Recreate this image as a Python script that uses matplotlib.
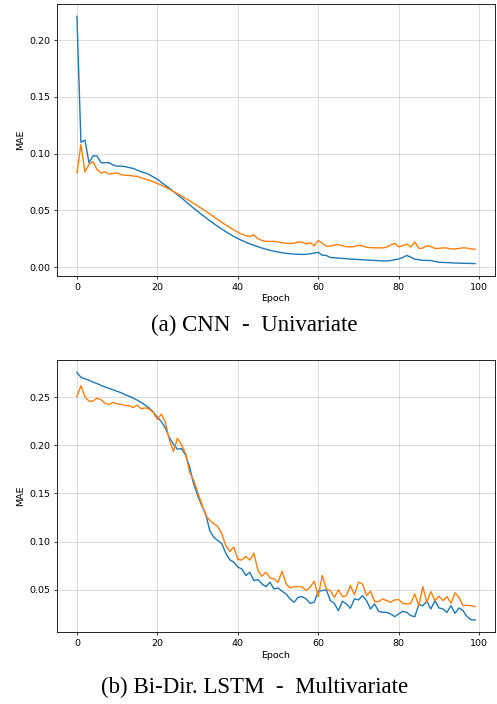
import numpy as np
import matplotlib.pyplot as plt

# epoch axis
epochs = np.arange(100)

# (a) CNN - Univariate
cnn_blue = [0.221, 0.110, 0.112, 0.092, 0.098, 0.098, 0.092, 0.092, 0.092, 0.090,
            0.089, 0.089, 0.0886, 0.0877, 0.087, 0.0855, 0.084, 0.083, 0.0815, 0.0795,
            0.0775, 0.0748, 0.072, 0.0695, 0.0667, 0.0638, 0.061, 0.058, 0.055, 0.052,
            0.0492, 0.0464, 0.0437, 0.041, 0.0384, 0.036, 0.0336, 0.0313, 0.0291, 0.0271,
            0.0252, 0.0235, 0.022, 0.0205, 0.0192, 0.018, 0.0168, 0.0158, 0.0149, 0.014,
            0.0133, 0.0127, 0.0122, 0.0118, 0.0115, 0.0113, 0.0112, 0.0113, 0.0118, 0.0124,
            0.013, 0.0105, 0.0103, 0.0085, 0.0082, 0.008, 0.0077, 0.0074, 0.0071, 0.0069,
            0.0067, 0.0065, 0.0063, 0.0061, 0.0059, 0.0057, 0.0055, 0.0055, 0.0058, 0.0065,
            0.0072, 0.0085, 0.0103, 0.0088, 0.007, 0.0066, 0.006, 0.0059, 0.0058, 0.005,
            0.0043, 0.0041, 0.004, 0.0038, 0.0036, 0.0035, 0.0034, 0.0033, 0.0032, 0.0031]
cnn_orange = [0.083, 0.108, 0.084, 0.0905, 0.093, 0.086, 0.083, 0.084, 0.082, 0.0826,
              0.083, 0.0815, 0.081, 0.0808, 0.0803, 0.080, 0.0787, 0.0775, 0.0765, 0.0752,
              0.0738, 0.0722, 0.0704, 0.0686, 0.0667, 0.0647, 0.0627, 0.0606, 0.0585, 0.0563,
              0.054, 0.0517, 0.0493, 0.0469, 0.0445, 0.042, 0.0396, 0.0372, 0.035, 0.0328,
              0.0307, 0.029, 0.0277, 0.027, 0.0285, 0.025, 0.0235, 0.0228, 0.0226, 0.0228,
              0.0222, 0.0215, 0.021, 0.0207, 0.0212, 0.0222, 0.022, 0.0205, 0.0215, 0.0188,
              0.0235, 0.021, 0.0185, 0.0185, 0.0195, 0.0198, 0.019, 0.018, 0.0178, 0.0182,
              0.0192, 0.0188, 0.0175, 0.0172, 0.017, 0.017, 0.017, 0.0175, 0.0195, 0.021,
              0.0178, 0.019, 0.0202, 0.0178, 0.0222, 0.0165, 0.0168, 0.0188, 0.0182, 0.0165,
              0.0165, 0.017, 0.0168, 0.016, 0.016, 0.0165, 0.017, 0.0168, 0.016, 0.0158]

# (b) Bi-Dir. LSTM - Multivariate
lstm_blue = [0.2756, 0.2705, 0.269, 0.2675, 0.2655, 0.264, 0.2622, 0.2605, 0.259, 0.2575,
             0.256, 0.2545, 0.2525, 0.2508, 0.249, 0.2468, 0.2445, 0.2415, 0.2385, 0.2345,
             0.229, 0.2245, 0.2178, 0.208, 0.201, 0.196, 0.1965, 0.190, 0.1777, 0.1604,
             0.1482, 0.1378, 0.1292, 0.1118, 0.1048, 0.1013, 0.098, 0.0881, 0.0812, 0.0788,
             0.0736, 0.0718, 0.0649, 0.0683, 0.0597, 0.0607, 0.0562, 0.0534, 0.0579, 0.051,
             0.052, 0.0486, 0.0458, 0.0406, 0.0371, 0.0423, 0.043, 0.0406, 0.036, 0.0371,
             0.0486, 0.0493, 0.050, 0.0389, 0.036, 0.0284, 0.0382, 0.0354, 0.0309, 0.0406,
             0.0396, 0.044, 0.0389, 0.0302, 0.0354, 0.0278, 0.0267, 0.0267, 0.025, 0.0222,
             0.025, 0.0278, 0.0267, 0.0233, 0.0222, 0.0347, 0.0336, 0.0382, 0.0302, 0.0389,
             0.0313, 0.0302, 0.0267, 0.0336, 0.0257, 0.0313, 0.0285, 0.0222, 0.0191, 0.0188]
lstm_orange = [0.2506, 0.2618, 0.250, 0.2458, 0.2458, 0.249, 0.2472, 0.2437, 0.2423, 0.2444,
               0.243, 0.2423, 0.2413, 0.241, 0.2392, 0.2417, 0.2378, 0.2389, 0.2375, 0.234,
               0.227, 0.2323, 0.2236, 0.2055, 0.1934, 0.2073, 0.2003, 0.1917, 0.1725, 0.1639,
               0.1517, 0.1396, 0.1274, 0.1222, 0.1188, 0.116, 0.1083, 0.0961, 0.0899, 0.0944,
               0.0816, 0.081, 0.0847, 0.081, 0.0881, 0.0701, 0.0642, 0.0683, 0.0625, 0.0614,
               0.0579, 0.0694, 0.0562, 0.052, 0.0534, 0.0534, 0.053, 0.0493, 0.053, 0.059,
               0.043, 0.0649, 0.051, 0.0493, 0.0423, 0.050, 0.043, 0.044, 0.0545, 0.0451,
               0.058, 0.0562, 0.044, 0.0486, 0.0378, 0.0378, 0.0406, 0.0389, 0.0371, 0.0396,
               0.040, 0.036, 0.0354, 0.036, 0.0458, 0.0336, 0.0534, 0.0371, 0.0482, 0.0389,
               0.0434, 0.0389, 0.043, 0.036, 0.0469, 0.0423, 0.0336, 0.034, 0.0336, 0.0326]

panels = [
    (cnn_blue, cnn_orange, "(a) CNN  -  Univariate", [0.1147, 0.608, 0.8813, 0.3863], 0.537),
    (lstm_blue, lstm_orange, "(b) Bi-Dir. LSTM  -  Multivariate", [0.1147, 0.1018, 0.8813, 0.3868], 0.0235),
]

fig = plt.figure(figsize=(4.97, 7.04), dpi=100)

for blue, orange, caption, rect, cap_y in panels:
    ax = fig.add_axes(rect)
    ax.plot(epochs, blue, color="#1f77b4", lw=1.0)
    ax.plot(epochs, orange, color="#ff7f0e", lw=1.0)
    ax.grid(True, color="#b0b0b0", lw=0.6, alpha=0.5)
    ax.set_xlabel("Epoch", fontsize=6.8, labelpad=2)
    ax.set_ylabel("MAE", fontsize=6.8, labelpad=3)
    ax.tick_params(labelsize=6.8, length=2.4, width=0.55, pad=2.4)
    for sp in ax.spines.values():
        sp.set_linewidth(0.6)
    fig.text(0.512, cap_y, caption, ha="center", va="center",
             fontsize=16.5, family="Liberation Serif")

fig.savefig("out.png", dpi=100)
